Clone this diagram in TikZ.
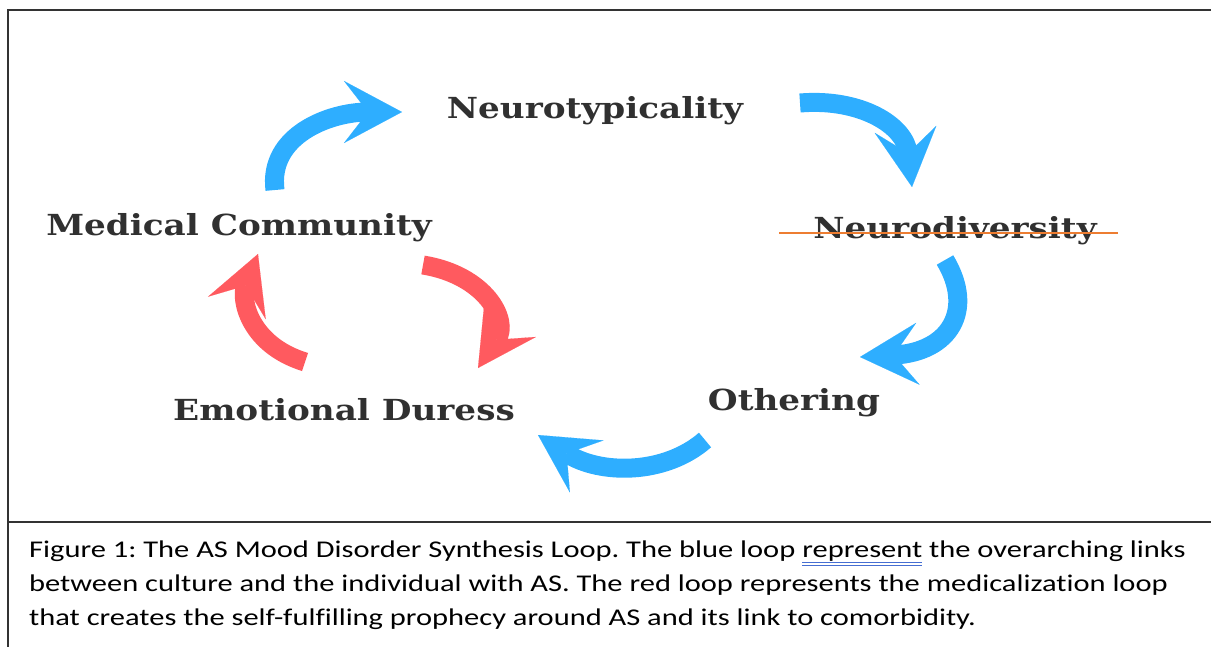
\documentclass[tikz,border=0pt]{standalone}
\usepackage{fontspec}
\usepackage{xcolor}
\usetikzlibrary{arrows.meta, positioning, calc}
\newfontfamily\loopfont{DejaVu Serif}[FakeStretch=1.18]
\newfontfamily\capfont{Carlito}[FakeStretch=1.27, Ligatures=NoCommon]
\definecolor{loopblue}{RGB}{46,174,255}
\definecolor{loopred}{RGB}{255,90,95}
\definecolor{strikeorange}{RGB}{237,125,49}
\definecolor{markblue}{RGB}{70,110,210}
\definecolor{labelgray}{RGB}{48,48,48}
\newcommand{\wordmark}[1]{\setbox0\hbox{#1}\leavevmode\rlap{\textcolor{markblue}{\rule[-5pt]{\wd0}{1.2pt}}}\rlap{\textcolor{markblue}{\rule[-8pt]{\wd0}{1.2pt}}}\box0\relax}
\tikzset{
  stage/.style={font=\loopfont\bfseries\fontsize{29}{34}\selectfont, text=labelgray, inner sep=0pt},
  bluearrow/.style={-{Stealth[length=58pt, width=62pt, inset=24pt, line width=0.1pt]}, line width=19pt, loopblue},
  redarrow/.style={-{Stealth[length=58pt, width=62pt, inset=24pt, line width=0.1pt]}, line width=19pt, loopred},
  frame/.style={line width=2pt, black!80}
}
\begin{document}
\frenchspacing
\begin{tikzpicture}[x=1pt, y=-1pt]
  \useasboundingbox (0,0) rectangle (1211,647);

  % frame
  \coordinate (tl) at (8,10);
  \coordinate (tr) at (1211,10);
  \coordinate (bl) at (8,647);
  \coordinate (ml) at (8,522);
  \coordinate (mr) at (1211,522);
  \draw[frame] (bl) -- (tl) -- (tr);
  \draw[frame] (ml) -- (mr);

  % stages
  \node[stage] (ntyp) at (595,111) {Neurotypicality};
  \node[stage] (ndiv) at (955,231) {Neurodiversity};
  \node[stage] (other) at (794,403) {Othering};
  \node[stage] (duress) at (344,410) {Emotional Duress};
  \node[stage] (medic) at (239,228) {Medical Community};
  \draw[strikeorange, line width=2.5pt] ([xshift=-34pt, yshift=-2pt]ndiv.west) -- ([xshift=21pt, yshift=-2pt]ndiv.east);

  % blue loop
  \coordinate (b1s) at (275,190);
  \coordinate (b1e) at (402,112);
  \coordinate (b2s) at (800,103);
  \coordinate (b2e) at (912,187);
  \coordinate (b3s) at (945,260);
  \coordinate (b3e) at (860,357);
  \coordinate (b4s) at (705,440);
  \coordinate (b4e) at (538,435);
  \draw[bluearrow] (b1s) .. controls (268,135) and (330,112) .. (b1e);
  \draw[bluearrow] (b2s) .. controls (860,98) and (905,125) .. (b2e);
  \draw[bluearrow] (b3s) .. controls (975,310) and (950,352) .. (b3e);
  \draw[bluearrow] (b4s) .. controls (665,475) and (600,475) .. (b4e);

  % red loop
  \coordinate (r1s) at (305,362);
  \coordinate (r1e) at (258,254);
  \coordinate (r2s) at (423,265);
  \coordinate (r2e) at (478,368);
  \draw[redarrow] (r1s) .. controls (250,345) and (240,300) .. (r1e);
  \draw[redarrow] (r2s) .. controls (485,275) and (510,320) .. (r2e);

  % caption
  \node[anchor=north west, align=left, inner sep=0pt, font=\capfont\fontsize{24}{34}\selectfont] (caption) at (29,541)
    {Figure 1: The AS Mood Disorder Synthesis Loop. The blue loop \wordmark{represent} the overarching links\\
     between culture and the individual with AS. The red loop represents the medicalization loop\\
     that creates the self-fulfilling prophecy around AS and its link to comorbidity.};
\end{tikzpicture}
\end{document}
